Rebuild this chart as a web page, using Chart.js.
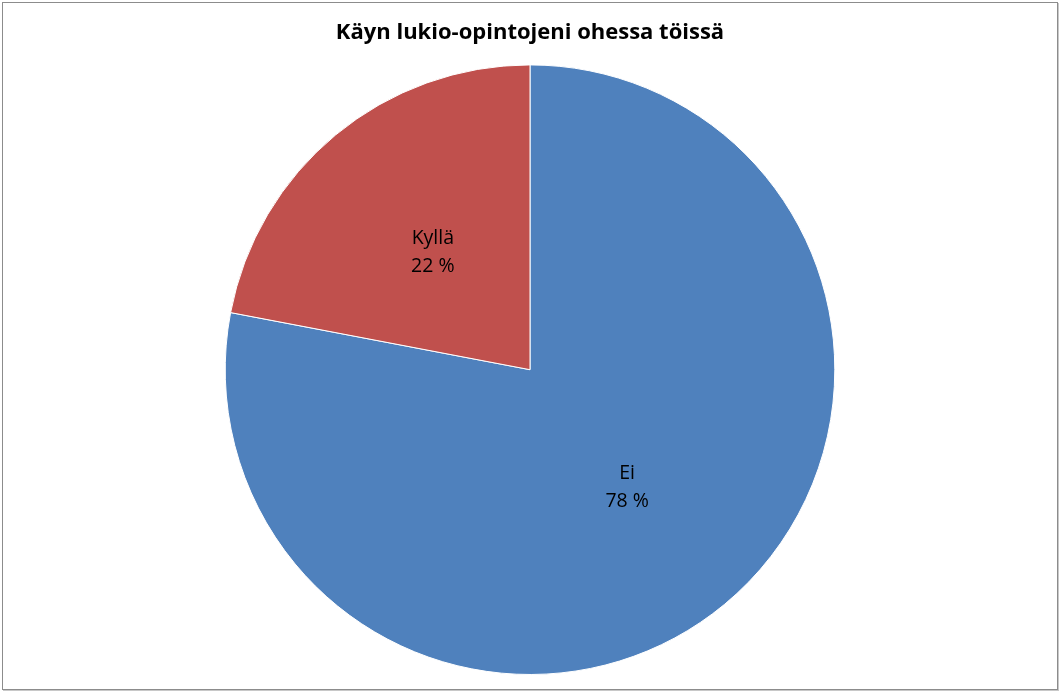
<!DOCTYPE html>
<html>
<head>
    <title>Käyn lukio-opintojeni ohessa töissä</title>
    <style>
        body {
            margin: 0;
            background: #fff;
        }
        .wrap {
            position: relative;
            width: 1062px;
            height: 696px;
        }
        .frame {
            position: absolute;
            left: 2px;
            top: 2px;
            width: 1054px;
            height: 686px;
            border: 1px solid #8c8c8c;
            box-shadow: 1px 1px 0 #c8c8c8;
            pointer-events: none;
        }
    </style>
    <script src="https://cdn.jsdelivr.net/npm/chart.js"></script>
</head>
<body>
    <div class="wrap">
        <canvas id="pieChart"></canvas>
        <div class="frame"></div>
    </div>

    <script>
        const chartTitle = 'Käyn lukio-opintojeni ohessa töissä';
        const categories = ['Ei', 'Kyllä'];
        const percentages = [78, 22];
        const sliceColors = ['#4F81BD', '#C0504D'];

        // label each slice with its name and share, at the middle of the slice
        const sliceLabels = {
            id: 'sliceLabels',
            afterDatasetsDraw(chart) {
                const ctx = chart.ctx;
                const meta = chart.getDatasetMeta(0);
                ctx.save();
                ctx.font = '19.5px "Open Sans", sans-serif';
                ctx.fillStyle = '#000';
                ctx.textAlign = 'center';
                ctx.textBaseline = 'middle';
                meta.data.forEach((arc, i) => {
                    const pos = arc.tooltipPosition();
                    ctx.fillText(categories[i], pos.x, pos.y - 14);
                    ctx.fillText(percentages[i] + ' %', pos.x, pos.y + 14);
                });
                ctx.restore();
            }
        };

        const ctx = document.getElementById('pieChart').getContext('2d');
        const chart = new Chart(ctx, {
            type: 'pie',
            data: {
                labels: categories,
                datasets: [{
                    data: percentages,
                    backgroundColor: sliceColors,
                    borderColor: '#ffffff',
                    borderWidth: 1
                }]
            },
            options: {
                responsive: true,
                maintainAspectRatio: false,
                animation: false,
                layout: {
                    padding: { top: 0, bottom: 21, left: 0, right: 2 }
                },
                plugins: {
                    legend: { display: false },
                    tooltip: { enabled: false },
                    title: {
                        display: true,
                        text: chartTitle,
                        color: '#000',
                        font: { family: '"Open Sans", sans-serif', size: 22, weight: 'bold' },
                        padding: { top: 20, bottom: 18 }
                    }
                }
            },
            plugins: [sliceLabels]
        });
    </script>
</body>
</html>
